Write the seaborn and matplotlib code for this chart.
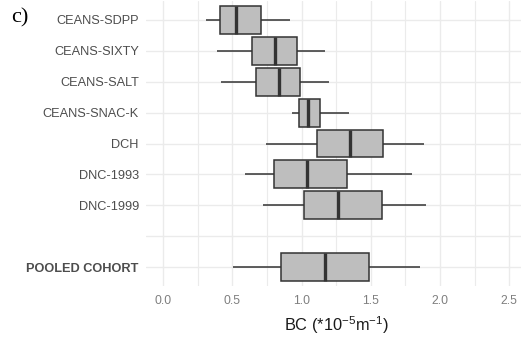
import numpy as np
import pandas as pd
import matplotlib
matplotlib.use("Agg")
import matplotlib.pyplot as plt
from matplotlib.ticker import MultipleLocator
import seaborn as sns

# Five-number summaries of BC exposure per cohort (x 10^-5 m^-1)
cohorts = ["CEANS-SDPP", "CEANS-SIXTY", "CEANS-SALT", "CEANS-SNAC-K",
           "DCH", "DNC-1993", "DNC-1999", "POOLED COHORT"]
whisker_low = [0.31, 0.39, 0.42, 0.93, 0.74, 0.59, 0.72, 0.505]
q1 = [0.41, 0.64, 0.67, 0.98, 1.11, 0.80, 1.02, 0.85]
median = [0.53, 0.81, 0.84, 1.05, 1.35, 1.04, 1.26, 1.17]
q3 = [0.71, 0.965, 0.99, 1.13, 1.59, 1.33, 1.58, 1.49]
whisker_high = [0.92, 1.17, 1.20, 1.345, 1.885, 1.80, 1.90, 1.855]

# Row order: the pooled estimate sits apart, below an empty slot
row_order = cohorts[:7] + [""] + cohorts[7:]
x_ticks = [0.0, 0.5, 1.0, 1.5, 2.0, 2.5]

rows = []
for i, name in enumerate(cohorts):
    for v in (whisker_low[i], q1[i], median[i], q3[i], whisker_high[i]):
        rows.append({"cohort": name, "BC": v})
df = pd.DataFrame(rows)

sns.set_theme(style="whitegrid")
plt.rcParams["font.family"] = ["Liberation Sans", "DejaVu Sans"]
plt.rcParams["mathtext.fontset"] = "custom"
plt.rcParams["mathtext.rm"] = "Liberation Sans"
plt.rcParams["mathtext.it"] = "Liberation Sans:italic"

fig = plt.figure(figsize=(5.21, 3.42), dpi=100)
ax = fig.add_axes([0.2797, 0.1649, 0.731, 0.831])

edge = "#333333"
sns.boxplot(data=df, x="BC", y="cohort", order=row_order, ax=ax,
            color="#BEBEBE", linecolor=edge, linewidth=1.1, width=0.9,
            whis=np.inf, showfliers=False, showcaps=False,
            medianprops={"linewidth": 2.4, "color": edge},
            saturation=1)

ax.set_xlim(-0.125, 2.625)
ax.set_ylim(len(row_order) - 1 + 0.6, -0.6)
ax.set_xticks(x_ticks)
ax.set_xticklabels([f"{t:.1f}" for t in x_ticks])
ax.xaxis.set_minor_locator(MultipleLocator(0.25))

grid_col = "#EBEBEB"
ax.grid(True, which="major", axis="both", color=grid_col, linewidth=1.0)
ax.grid(True, which="minor", axis="x", color=grid_col, linewidth=0.8)
ax.set_axisbelow(True)
for s in ax.spines.values():
    s.set_visible(False)
ax.set_facecolor("white")

ax.tick_params(axis="both", which="both", length=0)
ax.tick_params(axis="y", pad=5, labelsize=9.2, labelcolor="#4D4D4D")
ax.tick_params(axis="x", pad=7, labelsize=8.8, labelcolor="#7F7F7F")

for lab in ax.get_yticklabels():
    if lab.get_text() == "POOLED COHORT":
        lab.set_fontweight("bold")
        lab.set_color("#4D4D4D")

ax.set_ylabel("")
ax.set_xlabel(r"BC (*10$^{-5}$m$^{-1}$)", fontsize=11.8, color="#1A1A1A", labelpad=5)

fig.text(0.021, 0.975, "c)", family="Liberation Serif", fontsize=16,
         va="top", ha="left", color="black")

fig.savefig("out.png", dpi=100)
